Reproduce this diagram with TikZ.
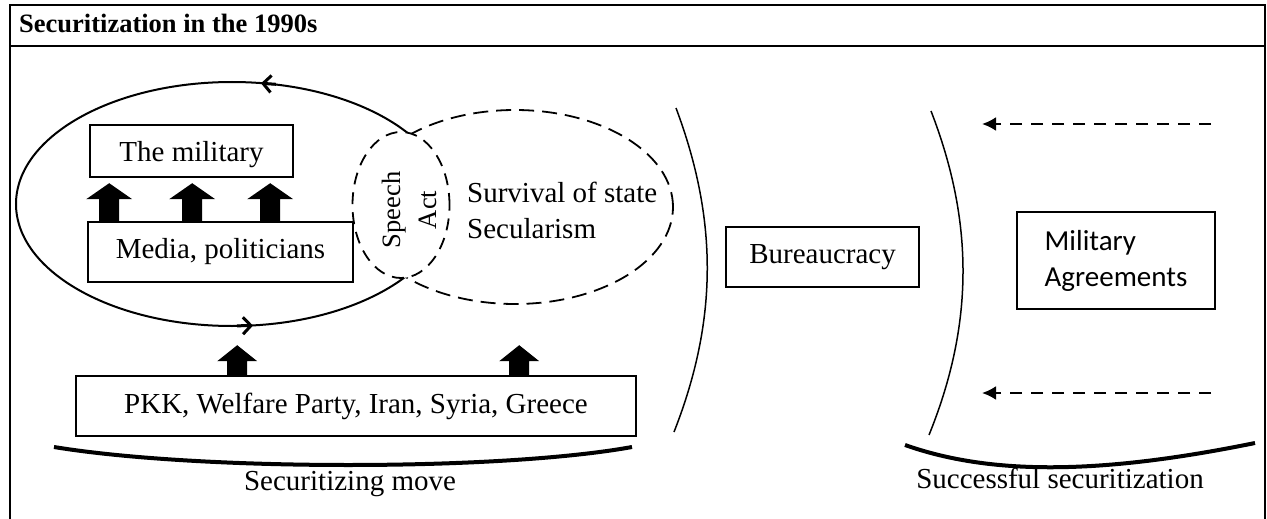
\documentclass[tikz,border=0pt]{standalone}
\usepackage{fontspec}
\setmainfont{Liberation Serif}
\newfontfamily\calibfont{Carlito}
\usetikzlibrary{arrows.meta,shapes.geometric,calc}
\begin{document}
\begin{tikzpicture}[x=1pt,y=-1pt,
  txt/.style={font=\fontsize{29}{36}\selectfont, inner sep=0pt},
  box/.style={draw, line width=1.6pt, inner sep=0pt, font=\fontsize{29}{36}\selectfont},
  dashedell/.style={draw, ellipse, inner sep=0pt, dash pattern=on 15pt off 8pt, line width=1.8pt},
  dasharrow/.style={line width=2.4pt, dash pattern=on 12pt off 9pt, -{Latex[length=14pt,width=14pt]}},
  bracket/.style={line width=1.5pt},
  brace/.style={line width=4pt},
  barb/.style={line width=3pt, -{Straight Barb[length=8pt,width=17pt]}},
  blockup/.pic={\fill (-10,0) -- (-10,-22) -- (-23,-22) -- (0,-38) -- (23,-22) -- (10,-22) -- (10,0) -- cycle;},
  blockupsmall/.pic={\fill (-10,0) -- (-10,-14) -- (-20,-14) -- (0,-30) -- (20,-14) -- (10,-14) -- (10,0) -- cycle;},
]
\useasboundingbox (0,0) rectangle (1267,519);
% frame
\draw[line width=2.6pt] (10,519) -- (10,5) -- (1265,5) -- (1265,519);
\draw[line width=2.6pt] (10,46) -- (1265,46);
\node[anchor=base west, inner sep=0pt, font=\bfseries\fontsize{26.5}{30}\selectfont] (title) at (19,33) {Securitization in the 1990s};

% cycle ellipse and dashed shapes
\node[draw, ellipse, line width=2pt, minimum width=432pt, minimum height=244pt, inner sep=0pt] (loop) at (232,204) {};
\node[dashedell, minimum width=316pt, minimum height=194pt] (threat) at (515,207) {};
\node[dashedell, fill=white, minimum width=97pt, minimum height=146pt, dash pattern=on 12pt off 8pt] (speech) at (401,205) {};
\node[inner sep=0pt, rotate=90, align=center, font=\fontsize{26.5}{36}\selectfont] (speechtxt) at ($(speech.center)+(8,5)$) {Speech\\Act};
\node[txt, anchor=north west, align=left] (surv) at (467,182) {Survival of state\\Secularism};

% direction marks on the cycle
\draw[barb] (276,84.3) -- (261,83.3);
\draw[barb] (237,325.8) -- (253,325.6);

% boxes
\node[box, minimum width=203pt, minimum height=52pt, text depth=0pt] (mil) at (191.5,151) {The military};
\node[box, minimum width=265pt, minimum height=60pt] (media) at (220.5,252) {Media, politicians};
\node[box, minimum width=560pt, minimum height=60pt] (pkk) at (356,406) {PKK, Welfare Party, Iran, Syria, Greece};
\node[box, minimum width=193pt, minimum height=60pt] (bur) at (822.5,257) {Bureaucracy};
\node[box, minimum width=198pt, minimum height=97pt, align=left, font=\calibfont\fontsize{29}{36}\selectfont] (agr) at (1116,260.5) {Military\\Agreements};

% block arrows
\foreach \dx in {22,105,183} \pic at ($(media.north west)+(\dx,0)$) {blockup};
\foreach \dx in {162,444} \pic at ($(pkk.north west)+(\dx,0)$) {blockupsmall};

% brackets
\draw[bracket] (676,108) .. controls (718,220) and (718,320) .. (674,432);
\draw[bracket] (931,111) .. controls (974,222) and (974,324) .. (929,435);

% dashed arrows
\coordinate (a1s) at (1211,124);
\coordinate (a1e) at (982,124);
\coordinate (a2s) at (1211,393);
\coordinate (a2e) at (982,393);
\draw[dasharrow] (a1s) -- (a1e);
\draw[dasharrow] (a2s) -- (a2e);

% bottom braces and labels
\draw[brace] (54,447) .. controls (200,471) and (500,471) .. (632,447);
\draw[brace] (905,445) .. controls (990,475) and (1098,475) .. (1255,443);
\node[txt, anchor=base] (smove) at (350,490) {Securitizing move};
\node[txt, anchor=base] (ssec) at (1060,488) {Successful securitization};
\end{tikzpicture}
\end{document}
